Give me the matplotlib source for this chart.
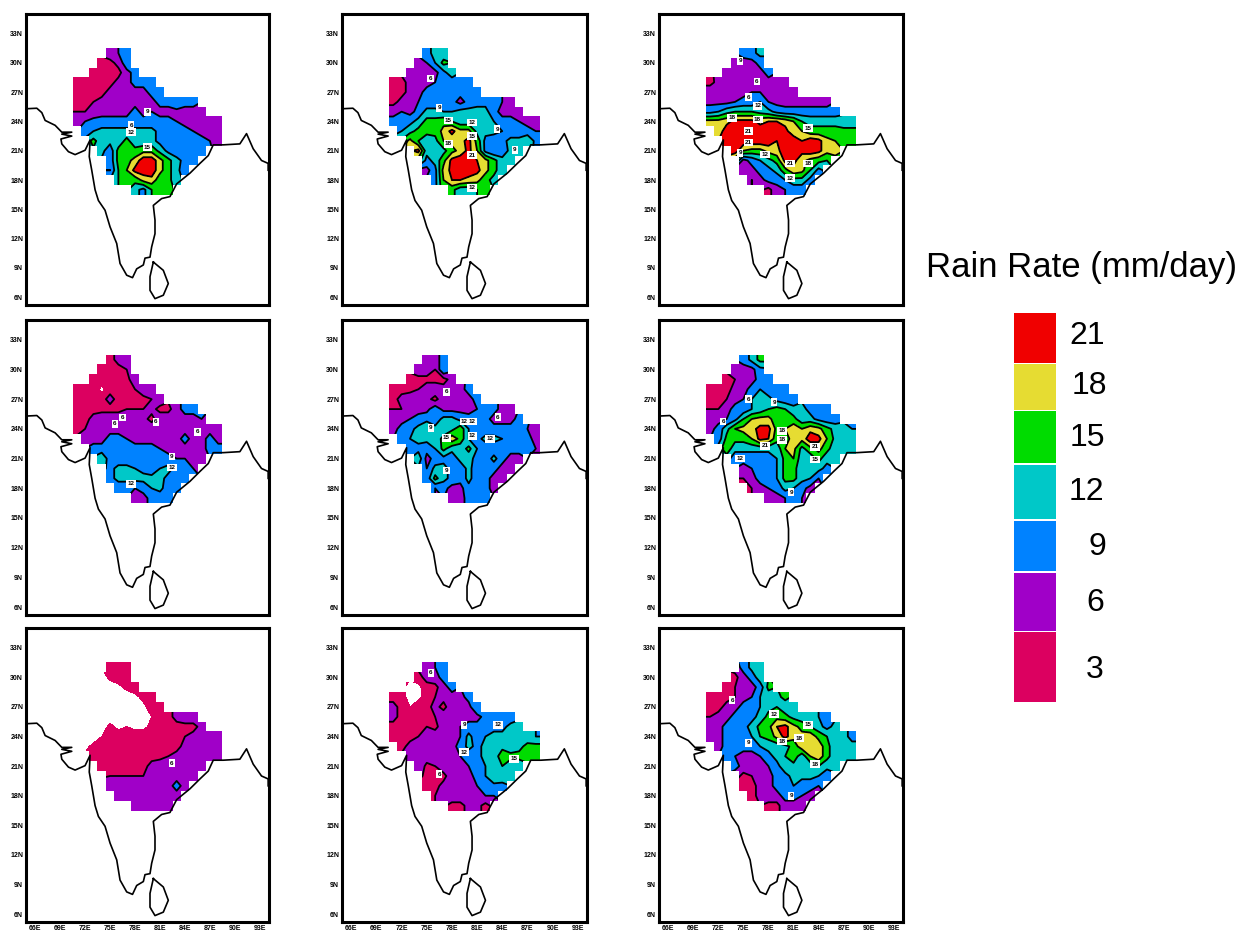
import numpy as np
import matplotlib
matplotlib.use("Agg")
import matplotlib.pyplot as plt
from matplotlib.path import Path
from matplotlib.patches import Rectangle

W, H = 1248, 934
LEVELS = [3, 6, 9, 12, 15, 18, 21, 60]
LINE_LEVELS = [6, 9, 12, 15, 18, 21]
COLORS = ["#DC0060", "#A000C8", "#0082FF", "#00C8C8", "#00DC00", "#E6DC32", "#F00000"]
LEGEND_LABELS = ["21", "18", "15", "12", "9", "6", "3"]
LAT_TICKS = [6, 9, 12, 15, 18, 21, 24, 27, 30, 33]
LON_TICKS = [66, 69, 72, 75, 78, 81, 84, 87, 90, 93]

COAST_LON = [65.0, 66.2, 66.8, 67.2, 68.4, 69.2, 70.4, 69.2, 70.4, 69.1, 69.2, 70.0, 70.8, 72.0, 72.6, 72.5,
             72.8, 73.2, 73.6, 74.4, 75.0, 75.8, 76.2, 77.0, 77.7, 78.2, 79.0, 79.2, 79.8, 80.0, 80.4, 80.4,
             80.2, 81.2, 82.2, 83.0, 84.6, 85.8, 86.8, 87.4, 88.6, 90.6, 91.4, 92.2, 93.2, 94.0, 94.0]
COAST_LAT = [25.3, 25.35, 24.9, 24.1, 23.6, 22.9, 22.9, 22.7, 22.5, 22.2, 21.7, 20.9, 20.6, 21.05, 22.1, 20.4,
             19.0, 17.0, 15.9, 14.9, 13.2, 11.5, 9.45, 8.25, 8.0, 8.9, 9.3, 10.0, 10.1, 11.15, 12.5, 13.9,
             15.4, 16.1, 16.3, 17.6, 18.7, 19.7, 20.5, 21.6, 21.6, 21.7, 22.75, 21.2, 20.0, 19.7, 19.0]
LANKA_LON = [80.2, 79.8, 79.8, 80.4, 81.4, 82.0, 81.4, 80.2]
LANKA_LAT = [9.6, 8.1, 6.7, 5.85, 6.2, 7.4, 8.75, 9.6]

# first column of each data row (rows run north to south, 31N..17N; columns from 71E)
ROW_START = [4, 3, 2, 0, 0, 0, 0, 0, 1, 2, 3, 4, 4, 5, 7]

P1 = [[8, 9, 10],
      [5, 5, 7, 11],
      [5, 5, 5, 5, 8, 10],
      [5, 5, 5, 5, 5, 7, 8, 10, 10, 10],
      [5, 5, 5, 5, 7, 8, 9, 8, 8, 10, 10],
      [5, 5, 6, 7, 7, 8, 8, 8, 8, 8, 10, 10, 12, 10, 10],
      [6, 6, 7, 8, 8, 8, 8, 10, 8, 9, 8, 8, 8, 8, 8, 8],
      [8, 9, 10, 10, 10, 10, 10, 10, 10, 10, 10, 10, 9, 8, 8, 8, 8, 8],
      [10, 12, 13, 13, 13, 13, 13, 13, 13, 11, 10, 10, 10, 9, 8, 8, 8],
      [16, 13, 13, 13, 16, 13, 13, 13, 11, 10, 10, 10, 10, 10, 9, 8],
      [13, 10, 16, 16, 16, 17, 17, 14, 11, 10, 10, 10, 10],
      [10, 16, 17, 19, 23, 23, 19, 16, 13, 11, 10],
      [9, 15, 18, 22, 23, 23, 19, 16, 13, 10],
      [15, 18, 16, 19, 20, 16, 16, 13],
      [13, 11, 15, 16, 16]]
P2 = [[11, 13, 13],
      [8, 9, 12, 16],
      [8, 8, 8, 8, 11, 14],
      [6, 5, 7, 8, 8, 9, 10, 10, 10, 12],
      [5, 5, 7, 8, 10, 10, 10, 10, 10, 10, 12],
      [5, 7, 8, 9, 10, 10, 10, 10, 8, 10, 11, 11, 10, 9, 9],
      [8, 9, 8, 10, 13, 13, 12, 12, 13, 13, 13, 13, 10, 8, 8, 8],
      [10, 10, 11, 13, 16, 16, 17, 15, 13, 13, 13, 13, 12, 10, 10, 9, 8, 8],
      [12, 14, 16, 16, 16, 19, 22, 19, 19, 14, 13, 13, 12, 10, 10, 10, 9],
      [19, 15, 13, 14, 18, 19, 20, 22, 17, 11, 10, 11, 13, 13, 15, 11],
      [22, 13, 14, 14, 17, 19, 22, 18, 11, 9, 10, 13, 13],
      [11, 13, 17, 22, 23, 23, 21, 19, 16, 13, 13],
      [8, 11, 19, 22, 23, 23, 22, 19, 16, 13],
      [11, 18, 21, 21, 20, 19, 16, 14],
      [16, 13, 13, 15, 16]]
P3 = [[10, 11, 13],
      [8, 8, 8, 10],
      [8, 8, 8, 8, 8, 10],
      [5, 7, 8, 8, 8, 8, 8, 8, 8, 8],
      [8, 8, 8, 8, 8, 9, 9, 8, 8, 8, 8],
      [8, 8, 8, 9, 10, 10, 12, 9, 8, 8, 8, 8, 8, 8, 8],
      [11, 12, 14, 15, 15, 15, 14, 13, 11, 10, 10, 10, 10, 10, 10, 10],
      [19, 19, 20, 22, 22, 22, 20, 21, 21, 20, 18, 15, 14, 14, 14, 14, 13, 13],
      [19, 23, 23, 23, 23, 23, 23, 23, 22, 19, 18, 16, 16, 16, 16, 16, 16],
      [23, 23, 23, 23, 23, 23, 21, 23, 23, 21, 23, 22, 19, 18, 17, 16],
      [23, 18, 17, 17, 19, 20, 23, 23, 22, 23, 22, 19, 19],
      [8, 10, 12, 14, 16, 22, 22, 19, 17, 16, 15],
      [7, 8, 10, 11, 13, 17, 20, 19, 15, 11],
      [6, 8, 10, 10, 12, 14, 14, 11],
      [5, 8, 9, 10, 10]]
P4 = [[5, 7, 8],
      [5, 5, 5, 6],
      [5, 5, 5, 5, 5, 8],
      [5, 5, 5, 2, 5, 5, 5, 6, 8, 8],
      [5, 5, 5, 5, 7, 5, 5, 5, 5, 6, 8],
      [5, 5, 5, 5, 5, 5, 6, 6, 6, 7, 5, 5, 8, 10, 10],
      [5, 5, 7, 8, 8, 8, 8, 8, 7, 5, 8, 8, 8, 8, 8, 9],
      [5, 6, 8, 8, 8, 8, 8, 8, 8, 8, 8, 8, 8, 8, 8, 9, 8, 8],
      [8, 8, 8, 10, 10, 9, 8, 8, 8, 8, 8, 8, 10, 8, 8, 10, 8],
      [10, 10, 10, 10, 10, 10, 10, 10, 9, 8, 8, 8, 8, 8, 10, 10],
      [15, 10, 10, 10, 10, 10, 10, 10, 10, 9, 9, 8, 8],
      [11, 13, 13, 12, 11, 10, 12, 13, 11, 10, 9],
      [11, 13, 13, 13, 13, 13, 13, 11, 10, 10],
      [10, 10, 9, 10, 12, 13, 10, 10],
      [8, 8, 10, 10, 10]]
P5 = [[8, 8, 10],
      [8, 8, 6, 12],
      [5, 5, 5, 5, 5, 7],
      [5, 5, 5, 6, 8, 8, 7, 8, 8, 10],
      [5, 7, 8, 8, 7, 5, 8, 8, 8, 8, 10],
      [6, 6, 8, 8, 8, 11, 8, 8, 8, 8, 9, 11, 10, 8, 8],
      [8, 8, 9, 10, 11, 10, 13, 13, 11, 10, 10, 10, 8, 8, 8, 10],
      [8, 10, 11, 13, 15, 13, 13, 14, 17, 12, 10, 10, 10, 10, 10, 10, 9, 8],
      [10, 12, 13, 13, 13, 16, 20, 17, 12, 11, 13, 13, 12, 10, 10, 10, 8],
      [10, 11, 10, 12, 16, 13, 13, 16, 12, 10, 10, 10, 10, 10, 10, 9],
      [14, 8, 10, 11, 10, 13, 13, 11, 10, 13, 10, 8, 8],
      [9, 13, 13, 11, 10, 13, 10, 9, 10, 8, 8],
      [10, 16, 13, 11, 10, 13, 10, 10, 8, 8],
      [9, 10, 8, 8, 11, 10, 10, 8],
      [8, 8, 10, 10, 10]]
P6 = [[10, 13, 16],
      [8, 8, 8, 11],
      [5, 6, 8, 8, 10, 12],
      [5, 5, 5, 7, 8, 10, 12, 10, 10, 10],
      [5, 5, 6, 8, 9, 12, 13, 13, 11, 10, 10],
      [6, 6, 8, 10, 10, 12, 13, 15, 16, 15, 13, 13, 11, 10, 10],
      [8, 8, 9, 11, 15, 18, 19, 19, 16, 16, 16, 13, 13, 11, 10, 10],
      [8, 10, 14, 18, 19, 20, 22, 22, 17, 18, 20, 18, 20, 19, 16, 14, 13, 12],
      [10, 16, 16, 16, 18, 22, 21, 16, 16, 20, 19, 23, 22, 18, 14, 13, 13],
      [17, 13, 13, 13, 13, 13, 13, 18, 19, 14, 17, 19, 16, 13, 13, 14],
      [10, 10, 10, 10, 10, 12, 16, 18, 13, 13, 16, 13, 13],
      [8, 9, 10, 10, 12, 16, 16, 13, 13, 13, 11],
      [6, 8, 10, 10, 12, 16, 16, 13, 12, 9],
      [6, 8, 9, 10, 13, 12, 10, 8],
      [8, 8, 9, 10, 9]]
P7 = [[5, 5, 5],
      [1, 4, 5, 5],
      [1, 1, 1, 2, 4, 5],
      [1, 1, 1, 1, 1, 1, 1, 2, 4, 5],
      [1, 1, 1, 1, 1, 1, 1, 1, 2, 5, 5],
      [1, 1, 1, 1, 1, 1, 1, 1, 1, 3, 5, 5, 7, 8, 8],
      [1, 1, 1, 1, 4, 2, 3, 2, 2, 4, 5, 5, 5, 5, 5, 7],
      [1, 1, 1, 3, 5, 5, 5, 5, 5, 5, 5, 5, 5, 6, 7, 8, 8, 8],
      [2, 4, 5, 5, 5, 5, 5, 5, 5, 5, 5, 5, 7, 8, 8, 8, 8],
      [5, 5, 5, 5, 5, 5, 5, 5, 5, 6, 7, 8, 8, 8, 8, 8],
      [5, 5, 5, 5, 5, 5, 7, 8, 8, 8, 8, 8, 8],
      [6, 6, 6, 6, 6, 8, 8, 8, 8, 8, 8],
      [8, 8, 8, 8, 8, 8, 8, 8, 10, 8],
      [8, 8, 8, 8, 8, 8, 8, 8],
      [8, 8, 8, 8, 8]]
P8 = [[8, 9, 10],
      [5, 7, 8, 10],
      [2, 2, 5, 5, 8, 10],
      [5, 5, 1, 2, 5, 6, 7, 8, 8, 10],
      [7, 5, 3, 5, 5, 7, 5, 8, 8, 8, 12],
      [7, 5, 5, 5, 5, 6, 8, 8, 8, 8, 8, 10, 11, 10, 10],
      [5, 5, 5, 5, 6, 5, 8, 8, 9, 10, 10, 10, 11, 11, 13, 13],
      [5, 5, 5, 6, 8, 8, 8, 8, 9, 13, 10, 12, 13, 13, 13, 13, 13, 12],
      [5, 7, 8, 8, 8, 8, 8, 10, 13, 11, 13, 13, 14, 13, 14, 16, 16],
      [8, 8, 8, 8, 8, 8, 9, 10, 11, 13, 13, 17, 16, 16, 16, 17],
      [9, 5, 6, 8, 8, 8, 9, 11, 12, 13, 15, 13, 13],
      [5, 5, 5, 8, 8, 8, 10, 12, 15, 14, 13],
      [5, 5, 7, 8, 8, 8, 9, 10, 11, 11],
      [6, 8, 8, 8, 8, 8, 9, 9],
      [5, 5, 7, 7, 5]]
P9 = [[10, 13, 13],
      [5, 8, 10, 14],
      [5, 6, 8, 8, 10, 16],
      [5, 5, 5, 6, 8, 9, 12, 13, 14, 16],
      [5, 5, 7, 8, 10, 10, 12, 14, 15, 13, 13],
      [6, 7, 8, 10, 10, 11, 13, 16, 17, 16, 14, 13, 15, 12, 10],
      [8, 8, 10, 10, 11, 13, 16, 17, 21, 22, 19, 17, 15, 13, 11, 13],
      [8, 8, 10, 10, 10, 12, 15, 16, 19, 22, 19, 19, 20, 17, 15, 13, 13, 11],
      [8, 10, 10, 10, 10, 12, 13, 13, 14, 16, 20, 20, 20, 16, 13, 13, 13],
      [10, 9, 8, 8, 9, 11, 13, 15, 17, 13, 18, 20, 16, 13, 13, 14],
      [10, 8, 8, 8, 9, 11, 14, 14, 13, 13, 15, 13, 13],
      [5, 6, 8, 8, 10, 11, 13, 13, 13, 12, 10],
      [5, 5, 7, 8, 10, 10, 12, 10, 10, 9],
      [5, 7, 8, 8, 10, 10, 9, 8],
      [5, 5, 8, 8, 8]]

# contour labels: lon, lat, text
L1 = [(77.55, 23.6, "6"), (77.55, 22.9, "12"), (79.5, 21.35, "15"), (79.5, 25.0, "9")]
L2 = [(75.45, 28.4, "6"), (76.5, 25.4, "9"), (77.6, 24.1, "15"), (80.4, 23.9, "12"), (80.4, 22.5, "15"),
      (77.6, 21.7, "18"), (80.4, 20.55, "21"), (80.4, 17.2, "12"), (83.4, 23.2, "9"), (85.5, 21.1, "9")]
L3 = [(74.6, 30.2, "9"), (76.6, 28.1, "6"), (75.6, 26.5, "6"), (76.7, 25.6, "12"), (73.6, 24.35, "18"),
      (76.7, 24.2, "18"), (75.6, 23.0, "21"), (75.6, 21.85, "21"), (74.6, 20.8, "9"), (77.6, 20.6, "12"),
      (80.6, 19.7, "21"), (82.7, 19.7, "18"), (82.7, 23.3, "15"), (80.6, 18.2, "12")]
L4 = [(76.5, 25.15, "6"), (75.6, 24.5, "6"), (80.5, 24.7, "6"), (85.5, 23.7, "6"), (82.4, 21.2, "9"),
      (82.4, 20.1, "12"), (77.55, 18.45, "12")]
L5 = [(77.35, 27.75, "6"), (75.5, 24.1, "9"), (79.5, 24.75, "12"), (80.45, 24.75, "12"), (77.35, 23.1, "15"),
      (80.45, 23.3, "12"), (82.5, 23.0, "12"), (83.45, 25.2, "6"), (77.35, 19.8, "9")]
L6 = [(75.6, 27.0, "6"), (72.6, 24.75, "6"), (78.7, 26.7, "9"), (79.6, 23.8, "18"), (79.6, 22.9, "18"),
      (77.6, 22.3, "21"), (74.6, 21.0, "12"), (83.6, 22.2, "21"), (83.6, 20.9, "15"), (80.7, 17.6, "9")]
L7 = [(82.4, 21.3, "6")]
L8 = [(75.5, 30.45, "6"), (76.5, 20.2, "6"), (79.45, 25.2, "9"), (79.45, 22.4, "12"), (83.45, 25.2, "12"),
      (85.4, 21.75, "15")]
L9 = [(73.65, 27.7, "6"), (78.7, 26.25, "12"), (75.6, 23.35, "9"), (79.6, 23.5, "18"), (81.7, 23.85, "18"),
      (82.7, 25.2, "15"), (83.6, 21.2, "18"), (80.7, 18.0, "9")]

PANELS = [P1, P2, P3, P4, P5, P6, P7, P8, P9]
LABELS = [L1, L2, L3, L4, L5, L6, L7, L8, L9]

COL_X = [(26, 269), (342, 587), (659, 903)]
ROW_Y = [(14, 305), (320, 615), (628, 922)]
XLIM = (64.9, 94.1)
YLIM = (5.2, 35.0)


def field(rows):
    """Place the rows on the lon/lat grid, and carry the edge values one ring outwards for contouring."""
    lats = np.arange(33, 15, -1)
    lons = np.arange(69, 91)
    z = np.full((lats.size, lons.size), np.nan)
    for r, row in enumerate(rows):
        assert len(row) == len(ROW_START and [0]) * 0 + len(row)
        z[r + 2, ROW_START[r] + 2:ROW_START[r] + 2 + len(row)] = row
    for _ in range(30):
        if not np.isnan(z).any():
            break
        p = np.pad(z, 1, constant_values=np.nan)
        stack = np.stack([p[:-2, 1:-1], p[2:, 1:-1], p[1:-1, :-2], p[1:-1, 2:]])
        cnt = (~np.isnan(stack)).sum(0)
        mean = np.nansum(stack, 0) / np.maximum(cnt, 1)
        fill = np.isnan(z) & (cnt > 0)
        z[fill] = mean[fill]
    return lons, lats, z


def cell_path(rows):
    verts, codes = [], []
    e = 0.01
    for r, row in enumerate(rows):
        lat = 31 - r
        for k in range(len(row)):
            lon = 71 + ROW_START[r] + k
            verts += [(lon - .5 - e, lat - .5 - e), (lon + .5 + e, lat - .5 - e),
                      (lon + .5 + e, lat + .5 + e), (lon - .5 - e, lat + .5 + e), (0, 0)]
            codes += [Path.MOVETO, Path.LINETO, Path.LINETO, Path.LINETO, Path.CLOSEPOLY]
    return Path(verts, codes)


fig = plt.figure(figsize=(W / 100, H / 100), dpi=100, facecolor="white")
plt.rcParams["font.family"] = ["Liberation Sans", "DejaVu Sans"]

for i, (rows, labels) in enumerate(zip(PANELS, LABELS)):
    ri, ci = i // 3, i % 3
    x0, x1 = COL_X[ci]
    y0, y1 = ROW_Y[ri]
    ax = fig.add_axes([x0 / W, 1 - y1 / H, (x1 - x0) / W, (y1 - y0) / H])
    ax.set_xlim(*XLIM)
    ax.set_ylim(*YLIM)
    lons, lats, z = field(rows)
    clip = cell_path(rows)
    cf = ax.contourf(lons, lats, z, levels=LEVELS, colors=COLORS)
    cf.set_clip_path(clip, ax.transData)
    cl = ax.contour(lons, lats, z, levels=LINE_LEVELS, colors="black", linewidths=1.3)
    cl.set_clip_path(clip, ax.transData)
    ax.plot(COAST_LON, COAST_LAT, color="black", lw=1.2)
    ax.plot(LANKA_LON, LANKA_LAT, color="black", lw=1.2)
    for lon, lat, txt in labels:
        ax.text(lon, lat, txt, fontsize=4.5, fontweight="bold", ha="center", va="center", color="black",
                bbox=dict(facecolor="white", edgecolor="none", pad=1.0), zorder=6)
    ax.set_yticks(LAT_TICKS)
    ax.set_yticklabels([f"{v}N" for v in LAT_TICKS], fontsize=5, fontweight="bold")
    ax.set_xticks(LON_TICKS)
    if ri == 2:
        ax.set_xticklabels([f"{v}E" for v in LON_TICKS], fontsize=5, fontweight="bold")
    else:
        ax.set_xticklabels([])
    ax.tick_params(length=0, pad=2)
    for s in ax.spines.values():
        s.set_linewidth(2.2)

# legend, in figure pixels
lax = fig.add_axes([0, 0, 1, 1])
lax.set_xlim(0, W)
lax.set_ylim(H, 0)
lax.axis("off")
LEG_TOP = [313, 364, 411, 465, 521, 573, 632]
LEG_BOT = [362.5, 410, 463, 519, 571, 631, 702]
LEG_TX = [1087, 1089, 1087, 1086, 1097, 1095, 1095]
LEG_TY = [336, 386, 438, 492, 547, 603, 670]
for col, lab, t, b, tx, ty in zip(COLORS[::-1], LEGEND_LABELS, LEG_TOP, LEG_BOT, LEG_TX, LEG_TY):
    lax.add_patch(Rectangle((1014, t), 41.5, b - t, facecolor=col, edgecolor="none"))
    lax.text(tx, ty, lab, fontsize=23, ha="center", va="center", color="black")
lax.text(1082, 267, "Rain Rate (mm/day)", fontsize=25, ha="center", va="center", color="black")

fig.savefig("out.png", dpi=100)
